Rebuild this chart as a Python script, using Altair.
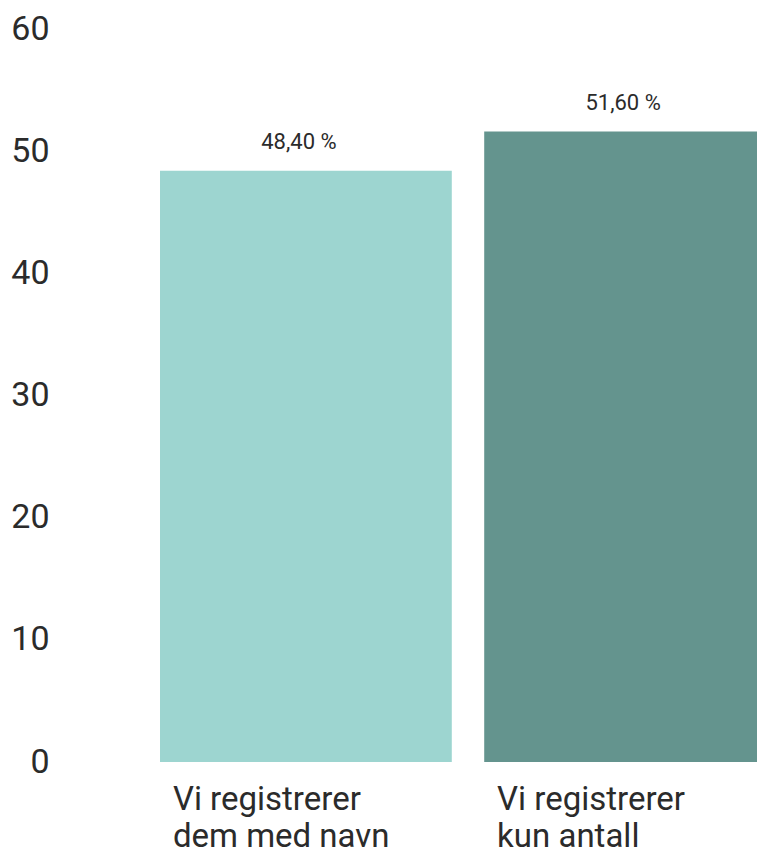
import altair as alt
import pandas as pd

categories = ["Vi registrerer|dem med navn", "Vi registrerer|kun antall"]
values = [48.4, 51.6]
colors = ["#9dd5d0", "#64948e"]
y_ticks = [0, 10, 20, 30, 40, 50, 60]

df = pd.DataFrame({"cat": categories, "value": values})

FONT = "Roboto"
TXT = "#2b2b2b"

x = alt.X(
    "cat:N",
    sort=categories,
    scale=alt.Scale(paddingInner=0.1, paddingOuter=0, range=[0, 616]),
    axis=alt.Axis(
        title=None,
        domain=False,
        ticks=False,
        labelAngle=0,
        labelAlign="left",
        labelBaseline="top",
        labelOffset=-133,
        labelPadding=21,
        labelFontSize=33,
        labelFont=FONT,
        labelColor=TXT,
        labelLineHeight=37,
        labelLimit=0,
        labelExpr="split(datum.value, '|')",
    ),
)

y = alt.Y(
    "value:Q",
    scale=alt.Scale(domain=[0, 60], nice=False),
    axis=alt.Axis(
        title=None,
        values=y_ticks,
        domain=False,
        ticks=False,
        grid=False,
        labelAlign="right",
        labelPadding=111,
        labelFontSize=34,
        labelFont=FONT,
        labelColor=TXT,
    ),
)

bars = alt.Chart(df).mark_bar().encode(
    x=x,
    y=y,
    color=alt.Color("cat:N", scale=alt.Scale(domain=categories, range=colors), legend=None),
)

text = alt.Chart(df).transform_calculate(
    lbl="replace(format(datum.value, '.2f'), '.', ',') + ' %'"
).mark_text(dy=-17, dx=-7, fontSize=22, font=FONT, color=TXT, baseline="bottom").encode(
    x=alt.X("cat:N", sort=categories),
    y="value:Q",
    text="lbl:N",
)

chart = (bars + text).properties(
    width=597,
    height=733,
    autosize=alt.AutoSizeParams(type="none"),
    padding={"top": 21, "left": 152, "right": 0, "bottom": 92},
).configure_view(stroke=None)

chart.save("out.html", embed_options={"renderer": "svg", "actions": False})
